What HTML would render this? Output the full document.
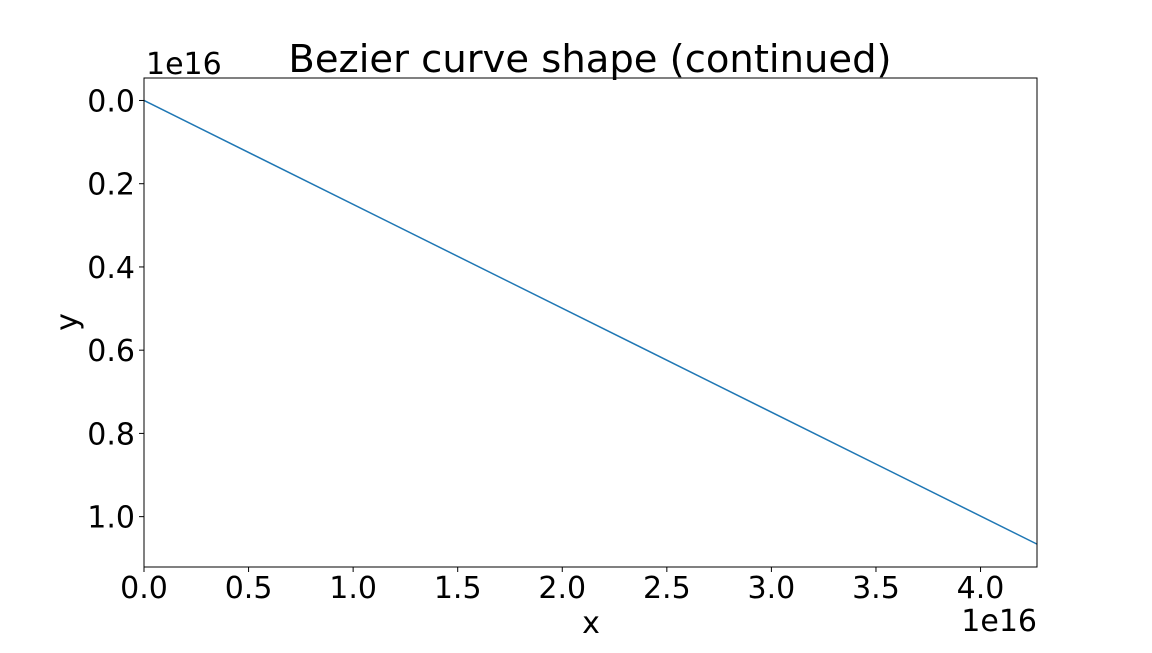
<!DOCTYPE html>
<html><head><meta charset="utf-8"><style>
body{margin:0;background:#fff;}
svg text{font-family:"DejaVu Sans","Liberation Sans",sans-serif;fill:#000;}
</style></head><body>
<svg id="chart" width="1152" height="648">
<rect width="1152" height="648" fill="#fff"/>
<text x="590" y="72" font-size="38.5" text-anchor="middle">Bezier curve shape (continued)</text>
<g id="ticks"></g>
<path id="line" fill="none" stroke="#1f77b4" stroke-width="1.5"/>
<rect x="144" y="78" width="893" height="489" fill="none" stroke="#000" stroke-width="1"/>
<text x="591" y="633" font-size="30" text-anchor="middle">x</text>
<text transform="translate(77,322) rotate(-90)" font-size="30" text-anchor="middle">y</text>
<text x="146" y="74" font-size="30">1e16</text>
<text x="1037" y="631" font-size="30" text-anchor="end">1e16</text>
</svg>
<script>
const xs=[0,4.27];
const ys=[0,1.066];
const xTicks=[0,0.5,1.0,1.5,2.0,2.5,3.0,3.5,4.0];
const yTicks=[0,0.2,0.4,0.6,0.8,1.0];
const X0=144,X1=1037,Y0=78,Y1=567;
const xmin=0,xmax=4.27,ymin=-0.054,ymax=1.121;
const sx=v=>X0+(v-xmin)/(xmax-xmin)*(X1-X0);
const sy=v=>Y0+(v-ymin)/(ymax-ymin)*(Y1-Y0);
const NS="http://www.w3.org/2000/svg";
const g=document.getElementById('ticks');
xTicks.forEach(t=>{
 const l=document.createElementNS(NS,'line');
 l.setAttribute('x1',sx(t));l.setAttribute('x2',sx(t));l.setAttribute('y1',Y1);l.setAttribute('y2',Y1+5);l.setAttribute('stroke','#000');
 
 
 g.appendChild(l);
 const tx=document.createElementNS(NS,'text');
 tx.setAttribute('x',sx(t));tx.setAttribute('y',598);tx.setAttribute('font-size','30');tx.setAttribute('text-anchor','middle');
 tx.textContent=t.toFixed(1);
 
 
 g.appendChild(tx);
});
yTicks.forEach(t=>{
 const l=document.createElementNS(NS,'line');
 l.setAttribute('x1',X0-5);l.setAttribute('x2',X0);l.setAttribute('y1',sy(t));l.setAttribute('y2',sy(t));l.setAttribute('stroke','#000');
 
 
 g.appendChild(l);
 const tx=document.createElementNS(NS,'text');
 tx.setAttribute('x',135);tx.setAttribute('y',sy(t)+11);tx.setAttribute('font-size','30');tx.setAttribute('text-anchor','end');
 tx.textContent=t.toFixed(1);
 
 
 g.appendChild(tx);
});
document.getElementById('line').setAttribute('d',xs.map((x,i)=>(i?'L':'M')+sx(x)+','+sy(ys[i])).join(' '));
</script>
</body></html>
